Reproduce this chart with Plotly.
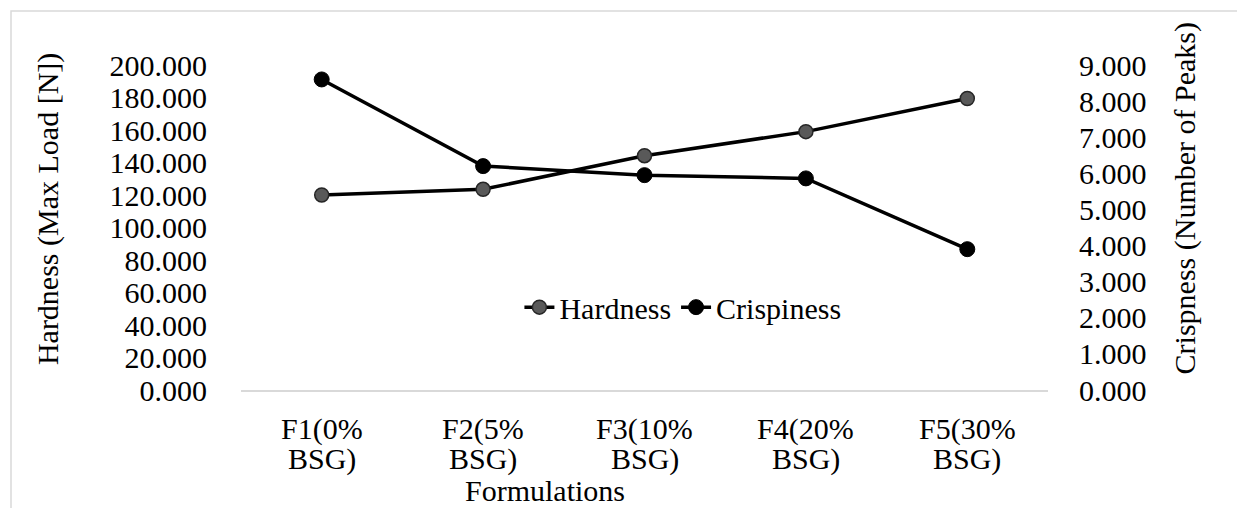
import plotly.graph_objects as go

# Formulation categories (first and second line of each tick label)
formulations = ["F1(0% BSG)", "F2(5% BSG)", "F3(10% BSG)", "F4(20% BSG)", "F5(30% BSG)"]
label_line1 = ["F1(0%", "F2(5%", "F3(10%", "F4(20%", "F5(30%"]
label_line2 = ["BSG)", "BSG)", "BSG)", "BSG)", "BSG)"]

# Measured texture values
hardness = [120.0, 123.5, 144.2, 159.0, 179.4]      # Max Load [N]
crispiness = [8.60, 6.20, 5.95, 5.86, 3.90]         # Number of Peaks

FONT = "Liberation Serif"
FS = 30

fig = go.Figure()
fig.add_trace(go.Scatter(
    x=formulations, y=hardness, name="Hardness", mode="lines+markers",
    line=dict(color="black", width=3.5),
    marker=dict(size=14, color="#595959", line=dict(color="#262626", width=1.5)),
    yaxis="y",
))
fig.add_trace(go.Scatter(
    x=formulations, y=crispiness, name="Crispiness", mode="lines+markers",
    line=dict(color="black", width=3.5),
    marker=dict(size=15, color="black", line=dict(color="black", width=1)),
    yaxis="y2",
))

fig.update_layout(
    width=1237, height=508,
    margin=dict(l=241, r=189, t=65, b=118),
    paper_bgcolor="white", plot_bgcolor="white",
    font=dict(family=FONT, size=FS, color="black"),
    showlegend=True,
    legend=dict(
        orientation="h", x=0.345, y=0.255, xanchor="left", yanchor="middle",
        bgcolor="rgba(0,0,0,0)", font=dict(family=FONT, size=FS),
        itemwidth=30, tracegroupgap=0,
    ),
    xaxis=dict(
        type="category", range=[-0.5, 4.5],
        showline=True, linecolor="#d9d9d9", linewidth=1.5,
        showgrid=False, zeroline=False, showticklabels=False, ticks="",
    ),
    yaxis=dict(
        range=[0, 200], dtick=20, tickformat=".3f",
        showgrid=False, zeroline=False, showline=False,
        ticks="outside", ticklen=27, tickcolor="rgba(0,0,0,0)",
        tickfont=dict(family=FONT, size=FS),
    ),
    yaxis2=dict(
        range=[0, 9], dtick=1, tickformat=".3f",
        overlaying="y", side="right",
        showgrid=False, zeroline=False, showline=False,
        ticks="outside", ticklen=24, tickcolor="rgba(0,0,0,0)",
        tickfont=dict(family=FONT, size=FS),
    ),
)

# Outer chart frame
fig.add_shape(type="rect", xref="paper", yref="paper",
              x0=-0.285, x1=1.3, y0=-0.45, y1=1.166,
              line=dict(color="#d9d9d9", width=1.5), layer="below")

# Two-line category labels
for cat, l1, l2 in zip(formulations, label_line1, label_line2):
    fig.add_annotation(x=cat, y=-0.12, xref="x", yref="paper", text=l1,
                       showarrow=False, xanchor="center", yanchor="middle",
                       font=dict(family=FONT, size=FS))
    fig.add_annotation(x=cat, y=-0.213, xref="x", yref="paper", text=l2,
                       showarrow=False, xanchor="center", yanchor="middle",
                       font=dict(family=FONT, size=FS))

# Axis titles
fig.add_annotation(x=0.377, y=-0.31, xref="paper", yref="paper", text="Formulations",
                   showarrow=False, xanchor="center", yanchor="middle",
                   font=dict(family=FONT, size=FS))
fig.add_annotation(x=-0.239, y=0.557, xref="paper", yref="paper",
                   text="Hardness (Max Load [N])", textangle=-90,
                   showarrow=False, xanchor="center", yanchor="middle",
                   font=dict(family=FONT, size=FS))
fig.add_annotation(x=1.170, y=0.59, xref="paper", yref="paper",
                   text="Crispness (Number of Peaks)", textangle=-90,
                   showarrow=False, xanchor="center", yanchor="middle",
                   font=dict(family=FONT, size=FS))

fig.write_html("out.html")
